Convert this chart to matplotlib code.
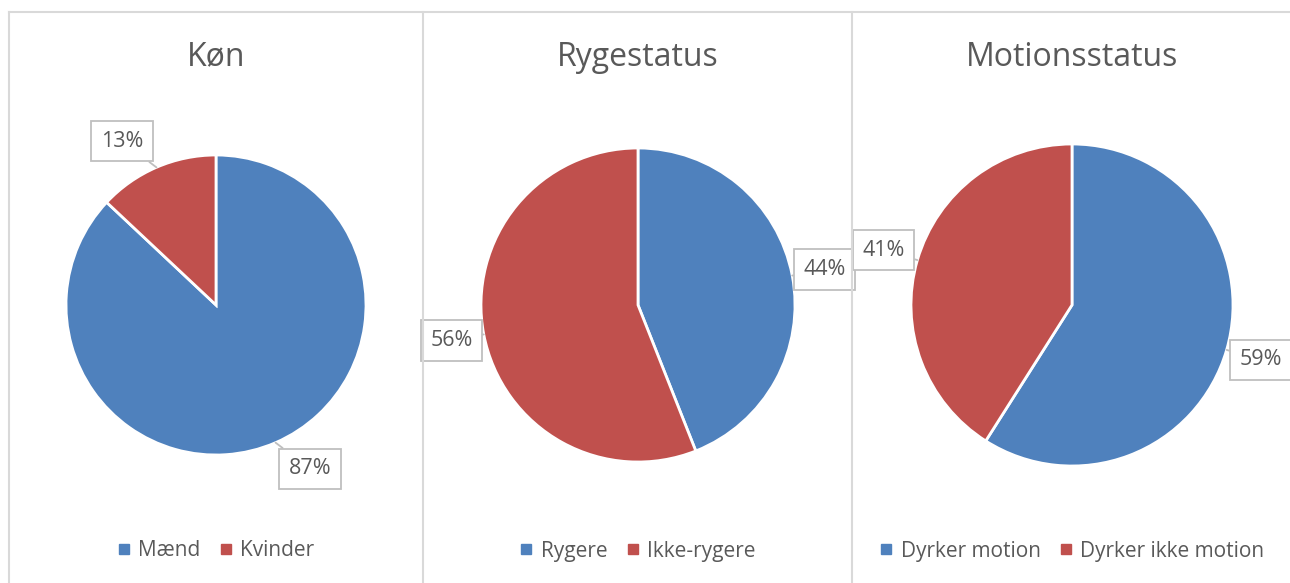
# plot.py - three pie charts (køn, rygestatus, motionsstatus) side by side

import numpy as np
import matplotlib
matplotlib.use("Agg")
import matplotlib.pyplot as plt
from matplotlib.lines import Line2D

W, H, DPI = 1290, 583, 100

BLUE = "#4F81BD"
RED = "#C0504D"
TEXT = "#595959"
BORDER = "#D9D9D9"
BOX = "#BFBFBF"

titles = ["Køn", "Rygestatus", "Motionsstatus"]
kon_labels = ["Mænd", "Kvinder"]
kon_values = [87, 13]
ryg_labels = ["Rygere", "Ikke-rygere"]
ryg_values = [44, 56]
mot_labels = ["Dyrker motion", "Dyrker ikke motion"]
mot_values = [59, 41]

# layout in pixels
panel_x = [9, 423, 852]
panel_top = 12
pie_cx = [216, 638, 1072]
pie_r = [150, 157, 161]
label_dist = [1.26, 1.21, 1.22]
label_turn = [6.5, 0, 0]  # excel nudges the labels of the first pie round a bit
PIE_CY = 305
TITLE_Y = 57
LEGEND_Y = 551

plt.rcParams["font.family"] = ["Open Sans", "DejaVu Sans"]


def draw_pie(fig, i, labels, values):
    cx, r = pie_cx[i], pie_r[i]
    ax = fig.add_axes([(cx - r) / W, (H - PIE_CY - r) / H, 2 * r / W, 2 * r / H])
    wedges, _ = ax.pie(values, colors=[BLUE, RED], startangle=90, counterclock=False,
                       radius=1, wedgeprops=dict(edgecolor="white", linewidth=2))
    ax.set_xlim(-1, 1); ax.set_ylim(-1, 1)
    ax.axis("off")

    # data labels in callout boxes
    for w, v in zip(wedges, values):
        mid = (w.theta1 + w.theta2) / 2
        ang = np.deg2rad(mid)
        lab = np.deg2rad(mid + label_turn[i])
        d = label_dist[i]
        ax.annotate(f"{v}%", xy=(np.cos(ang), np.sin(ang)),
                    xytext=(d * np.cos(lab), d * np.sin(lab)),
                    ha="center", va="center", fontsize=15.5, color=TEXT,
                    bbox=dict(boxstyle="square,pad=0.45", fc="white", ec=BOX, lw=1.3),
                    arrowprops=dict(arrowstyle="-", color=BOX, lw=1.3, shrinkA=0, shrinkB=0),
                    annotation_clip=False)

    fig.text(cx / W, 1 - TITLE_Y / H, titles[i], ha="center", va="center",
             fontsize=23, color=TEXT)

    handles = [Line2D([], [], marker="s", ls="", color=c, markersize=7) for c in (BLUE, RED)]
    fig.legend(handles, labels, loc="center", bbox_to_anchor=(cx / W, 1 - LEGEND_Y / H),
               ncol=2, frameon=False, fontsize=15, labelcolor=TEXT,
               handlelength=0.6, handletextpad=0.4, columnspacing=0.9)


fig = plt.figure(figsize=(W / DPI, H / DPI), dpi=DPI)

# panel borders
fig.add_artist(Line2D([panel_x[0] / W, 1], [1 - panel_top / H] * 2,
                      transform=fig.transFigure, color=BORDER, lw=1.5))
for x in panel_x:
    fig.add_artist(Line2D([x / W] * 2, [0, 1 - panel_top / H],
                          transform=fig.transFigure, color=BORDER, lw=1.5))

draw_pie(fig, 0, kon_labels, kon_values)
draw_pie(fig, 1, ryg_labels, ryg_values)
draw_pie(fig, 2, mot_labels, mot_values)

fig.savefig("out.png", dpi=DPI)
